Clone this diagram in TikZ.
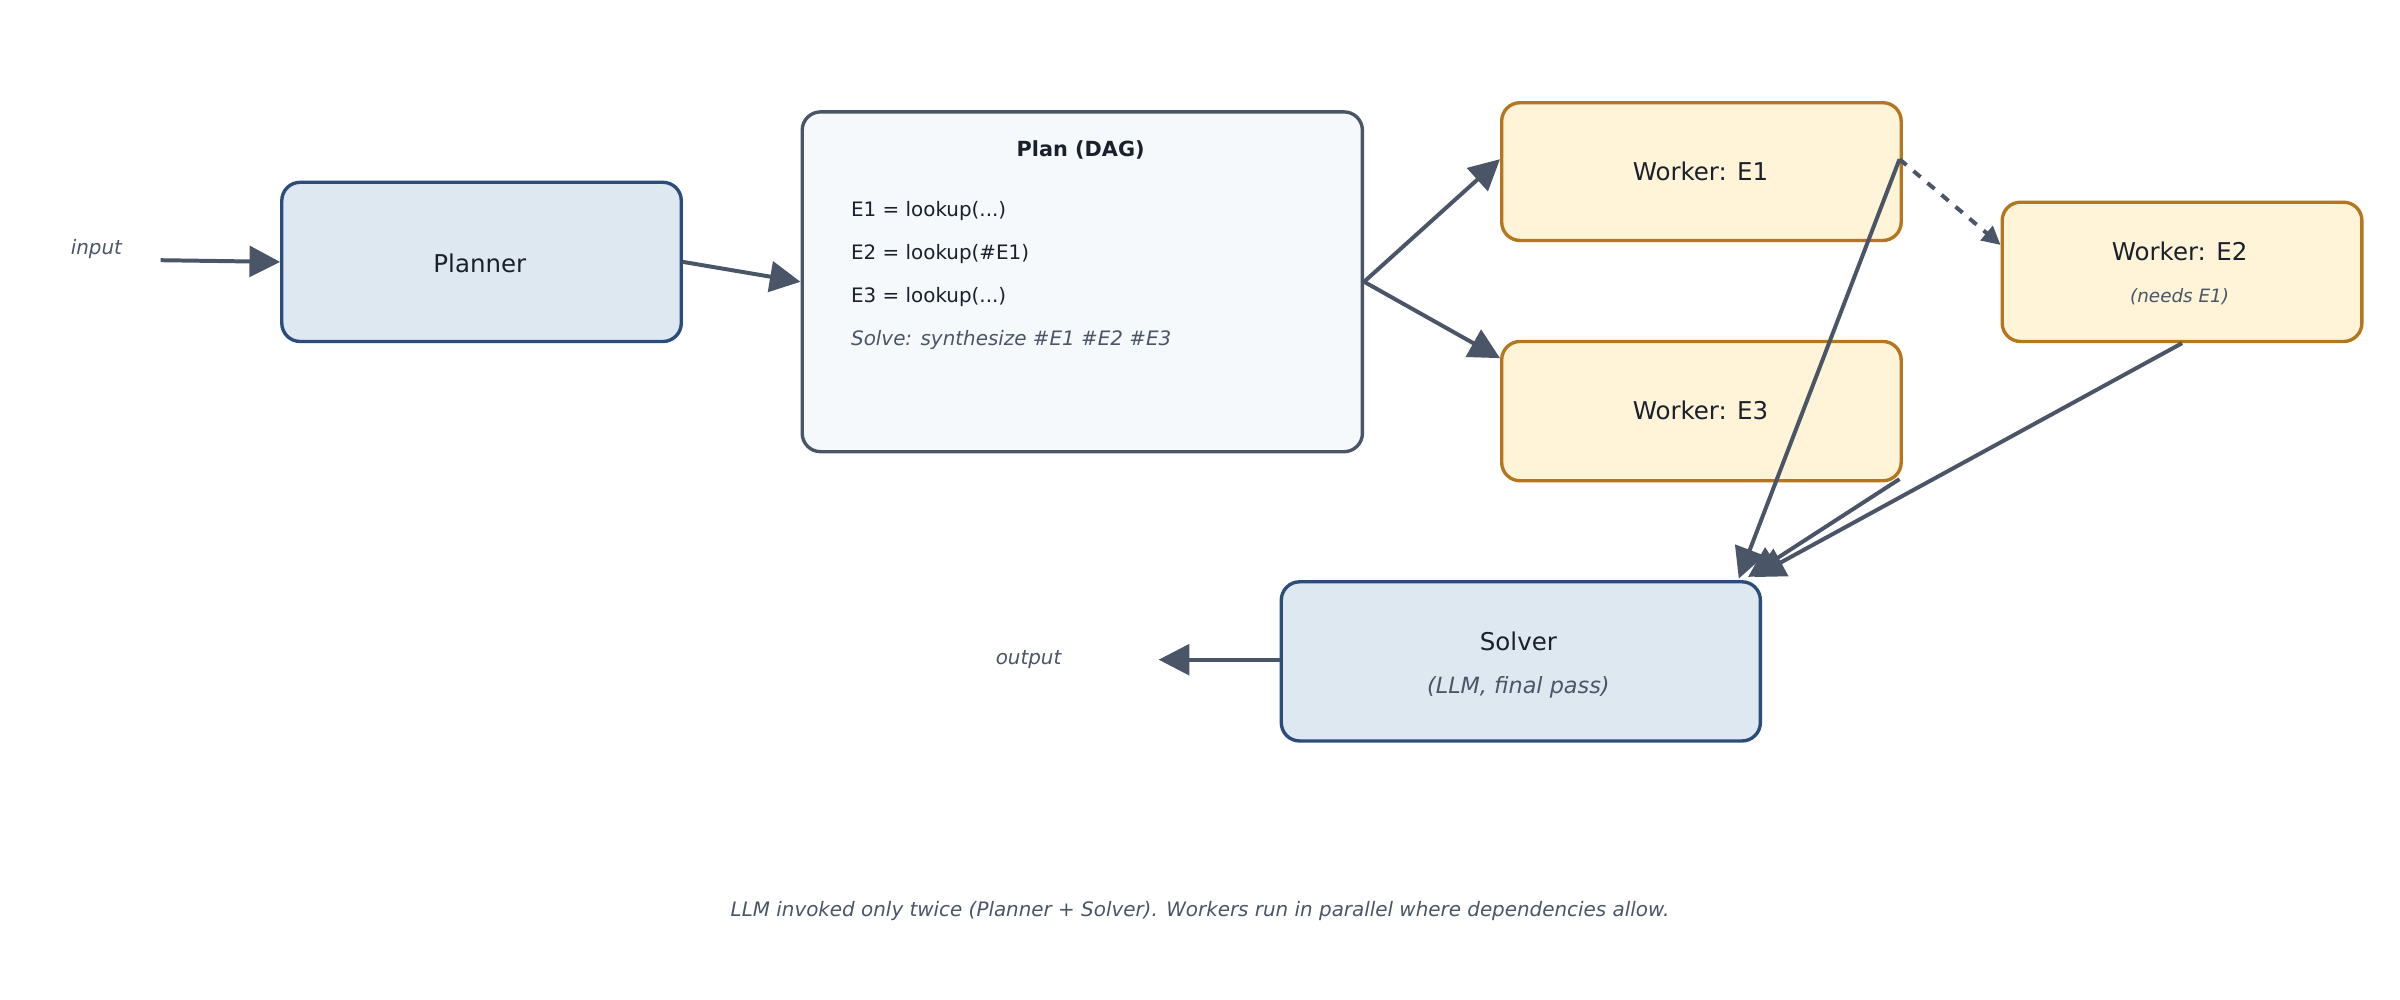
\documentclass[tikz,border=0pt]{standalone}
\usepackage{fontspec}
\setmainfont{DejaVu Sans}
\usetikzlibrary{arrows.meta}
\definecolor{ink}{HTML}{4A5568}
\definecolor{dark}{HTML}{1A202C}
\definecolor{bluef}{HTML}{DEE8F1}
\definecolor{blued}{HTML}{2A4D7B}
\definecolor{planf}{HTML}{F5F9FC}
\definecolor{yelf}{HTML}{FFF4D7}
\definecolor{yeld}{HTML}{B5761D}
\begin{document}
\begin{tikzpicture}[x=0.5pt,y=-0.5pt,
 box/.style={draw,line width=1.1pt,rounded corners=6pt,anchor=north west,inner sep=0pt},
 blue/.style={box,fill=bluef,draw=blued},
 yel/.style={box,fill=yelf,draw=yeld},
 arr/.style={draw=ink,line width=1.3pt,-{Triangle[length=10pt,width=10pt]}},
 lbl/.style={text=ink,font=\itshape\fontsize{6.5}{8}\selectfont},
 txt/.style={text=dark,font=\fontsize{8}{10}\selectfont},
 code/.style={text=dark,font=\fontsize{6.5}{8}\selectfont,anchor=west}]
\useasboundingbox (0,0) rectangle (1568,653);
\fill[white] (0,0) rectangle (1568,653);
\node[blue,minimum width=130.5pt,minimum height=52pt] (pl) at (183,118) {};
\node[txt] at (313.5,172) {Planner};
\node[box,fill=planf,draw=ink,minimum width=183pt,minimum height=111pt] (plan) at (523,72) {};
\node[txt,font=\bfseries\fontsize{6.8}{8}\selectfont] at (706,98) {Plan (DAG)};
\node[code] at (549,138) {E1 = lookup(...)};
\node[code] at (549,166) {E2 = lookup(\#E1)};
\node[code] at (549,194) {E3 = lookup(...)};
\node[code,text=ink,font=\itshape\fontsize{6.5}{8}\selectfont] at (549,222) {Solve: synthesize \#E1 \#E2 \#E3};
\node[yel,minimum width=130.5pt,minimum height=45pt] (e1) at (980,66) {};
\node[txt] at (1111,112) {Worker: E1};
\node[yel,minimum width=130.5pt,minimum height=45.5pt] (e3) at (980,222) {};
\node[txt] at (1111,268) {Worker: E3};
\node[yel,minimum width=117.5pt,minimum height=45.5pt] (e2) at (1307,131) {};
\node[txt] at (1424,164) {Worker: E2};
\node[lbl,font=\itshape\fontsize{6}{7}\selectfont] at (1424,194) {(needs E1)};
\node[blue,minimum width=156.5pt,minimum height=52pt] (sv) at (836,379) {};
\node[txt] at (992,419) {Solver};
\node[lbl,font=\itshape\fontsize{7.3}{9}\selectfont] at (992,449) {(LLM, final pass)};
\node[lbl] (in) at (63,163) {input};
\node[lbl] (out) at (672,431) {output};
\node[lbl] (cap) at (784,595) {LLM invoked only twice (Planner + Solver). Workers run in parallel where dependencies allow.};
\coordinate (ins) at (105,170);
\coordinate (oute) at (757,431);
\coordinate (e1r) at (1241,104);
\coordinate (e3b) at (1241,313);
\coordinate (s1) at (1136,378);
\coordinate (s2) at (1142,377);
\coordinate (s3) at (1146,377);
\draw[arr] (ins) -- (pl.west);
\draw[arr] (pl.east) -- (plan.west);
\draw[arr] (plan.east) -- (e1.west |- 0,104);
\draw[arr] (plan.east) -- (e3.west |- 0,234);
\draw[arr,dashed,-{Triangle[length=6pt,width=6pt]}] (e1r) -- (e2.west |- 0,160);
\draw[arr] (e1r) -- (s1);
\draw[arr] (e3b) -- (s2);
\draw[arr] (e2.south) -- (s3);
\draw[arr] (sv.west |- 0,431) -- (oute);
\end{tikzpicture}
\end{document}
